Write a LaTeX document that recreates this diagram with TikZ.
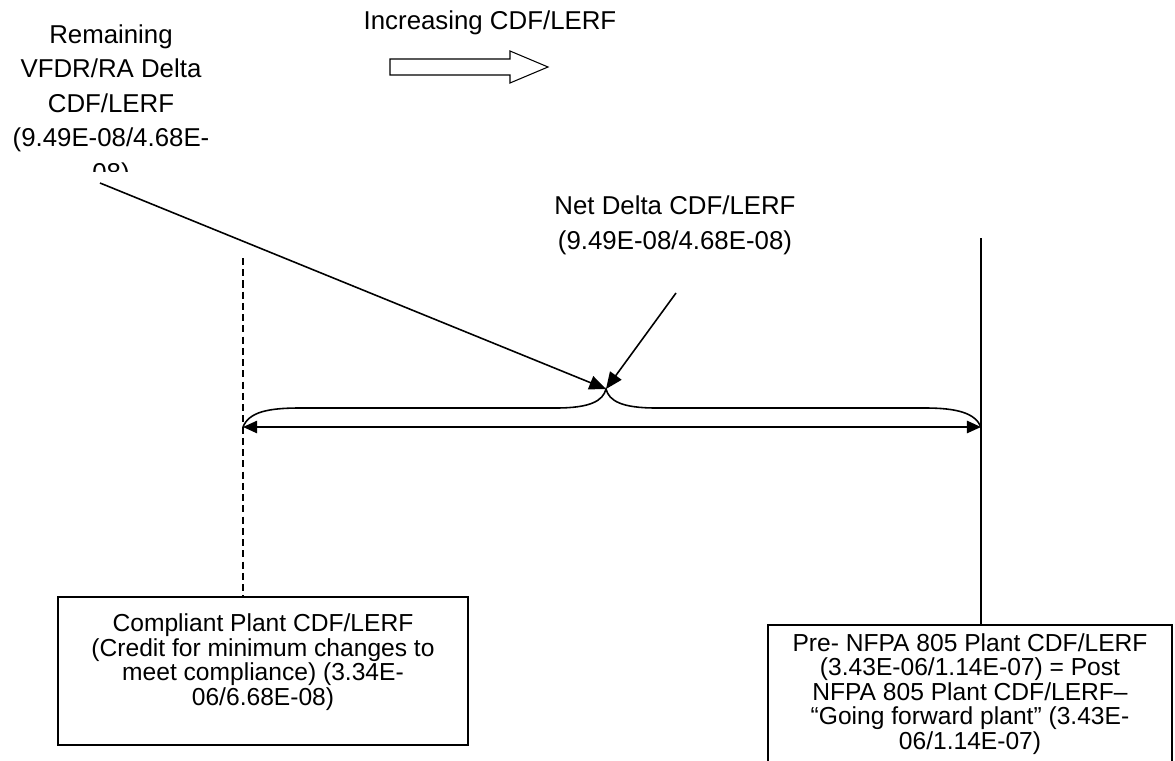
\documentclass[tikz,border=0pt]{standalone}
\usepackage{fontspec}
\setmainfont{Liberation Sans}
\usetikzlibrary{arrows.meta}
\begin{document}
\begin{tikzpicture}[x=0.02cm,y=-0.02cm,
  lbl/.style={align=center, inner sep=0pt, font=\fontsize{14.7pt}{19.6pt}\selectfont},
  boxtxt/.style={align=center, inner sep=0pt, font=\fontsize{14pt}{13.9pt}\selectfont},
  boxframe/.style={draw, line width=0.7pt, inner sep=0pt},
  conn/.style={line width=0.9pt, -{Triangle[length=9.5pt,width=8pt]}},
  dimline/.style={line width=0.9pt, {Triangle[length=8pt,width=7pt]}-{Triangle[length=8pt,width=7pt]}},
  bracepath/.style={line width=0.9pt},
  guide/.style={line width=0.7pt},
  hollow/.style={draw, line width=0.6pt, fill=white}
]
\useasboundingbox (0,0) rectangle (1175,760);
\clip (0,0) rectangle (1175,760);

% top-left label (clipped at bottom, as in the reference); base = last line
\begin{scope}
  \clip (0,0) rectangle (260,172);
  \node[lbl, anchor=base] (rem) at (111,181)
    {Remaining\\VFDR/RA Delta\\CDF/LERF\\(9.49E-08/4.68E-\\08)};
\end{scope}

% increasing label and hollow arrow
\node[lbl, anchor=base] (inc) at (490,30) {Increasing CDF/LERF};
\draw[hollow] (390,59) -- (510,59) -- (510,51) -- (548,67) -- (510,83) -- (510,75) -- (390,75) -- cycle;

% net delta label
\node[lbl, anchor=base] (net) at (675,249) {Net Delta CDF/LERF\\(9.49E-08/4.68E-08)};

% boxes
\node[boxframe, minimum width=8.2cm, minimum height=2.96cm] (cbox) at (263,671) {};
\node[boxtxt, anchor=base] (ctext) at (263,705)
  {Compliant Plant CDF/LERF\\(Credit for minimum changes to\\meet compliance) (3.34E-\\06/6.68E-08)};
\node[boxframe, minimum width=8.08cm, minimum height=2.84cm] (pbox) at (970,696) {};
\node[boxtxt, anchor=base] (ptext) at (970,749)
  {Pre- NFPA 805 Plant CDF/LERF\\(3.43E-06/1.14E-07) = Post\\NFPA 805 Plant CDF/LERF--\\``Going forward plant'' (3.43E-\\06/1.14E-07)};

% coordinates
\coordinate (dtop) at (243,258);
\coordinate (stop) at (981,238);
\coordinate (aL) at (243,427);
\coordinate (aR) at (981,427);
\coordinate (cusp) at (606,389);
\coordinate (remstart) at (100,183);
\coordinate (netstart) at (676,293);

% vertical guides
\draw[guide, dash pattern=on 4pt off 2.4pt] (dtop) -- (dtop |- cbox.north);
\draw[guide, line width=0.9pt] (stop) -- (stop |- pbox.north);

% dimension arrow
\draw[dimline] (aL) -- (aR);

% brace
\draw[bracepath] (aL) .. controls (249,412) and (268,408) .. (300,408)
  -- (556,408) .. controls (590,408) and (603,401) .. (cusp)
  .. controls (609,401) and (622,408) .. (656,408)
  -- (925,408) .. controls (957,408) and (975,413) .. (aR);

% pointers
\draw[conn] (remstart) -- (cusp);
\draw[conn] (netstart) -- (cusp);
\end{tikzpicture}
\end{document}
